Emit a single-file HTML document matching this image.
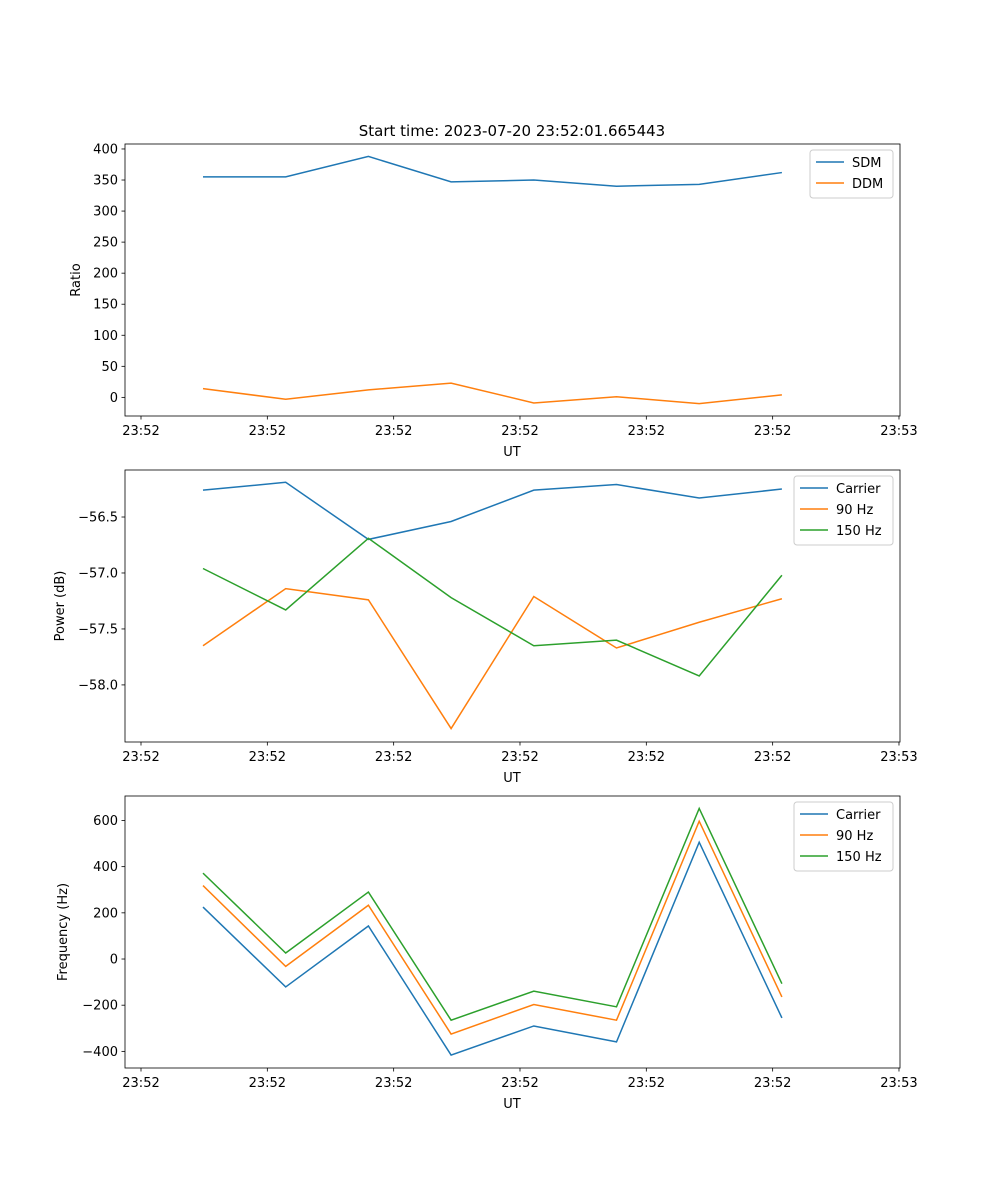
<!DOCTYPE html>
<html><head><meta charset="utf-8"><style>
body{margin:0;background:#fff}
svg{display:block;font-family:"DejaVu Sans","Liberation Sans",sans-serif}
</style></head><body>
<svg id="fig" width="1000" height="1200" viewBox="0 0 1000 1200" xmlns="http://www.w3.org/2000/svg">
<rect width="1000" height="1200" fill="#fff"/>
<text x="512" y="136" font-size="15" text-anchor="middle">Start time: 2023-07-20 23:52:01.665443</text>
</svg>
<script>
const xIndex=[0,1,2,3,4,5,6,7];
const xTickLabels=["23:52","23:52","23:52","23:52","23:52","23:52","23:53"];
const sdm=[355,355,388,347,350,340,343,362];
const ddm=[14,-3,12,23,-9,1,-10,4];
const powCarrier=[-56.26,-56.19,-56.70,-56.54,-56.26,-56.21,-56.33,-56.25];
const pow90=[-57.65,-57.14,-57.24,-58.39,-57.21,-57.67,-57.44,-57.23];
const pow150=[-56.96,-57.33,-56.69,-57.22,-57.65,-57.60,-57.92,-57.02];
const freqCarrier=[225,-121,143,-416,-290,-359,506,-255];
const freq90=[318,-32,233,-325,-197,-265,597,-164];
const freq150=[372,26,290,-265,-139,-207,652,-107];
const ratioTicks=[0,50,100,150,200,250,300,350,400];
const powTicks=[-58.0,-57.5,-57.0,-56.5];
const freqTicks=[-400,-200,0,200,400,600];

const svg=document.getElementById('fig');
const NS='http://www.w3.org/2000/svg';
function mk(tag,attrs,parent){const e=document.createElementNS(NS,tag);for(const k in attrs)e.setAttribute(k,attrs[k]);(parent||svg).appendChild(e);return e;}
const L=125,R=900;
// x axis: tick i at 141 + i*126.33 ; data index j at 203 + j*82.7
function xTick(i){return 141+i*126.33;}
function xData(j){return 203+j*82.7;}
const C=['#1f77b4','#ff7f0e','#2ca02c'];

function panel(name,top,bot,ymin,ymax,ticks,fmt,ylabel,series,legend){
  const g=mk('g',{});
  
  
  const y=v=>bot-(v-ymin)/(ymax-ymin)*(bot-top);
  series.forEach((s,k)=>{
    const p=mk('polyline',{points:s.vals.map((v,j)=>xData(xIndex[j])+','+y(v)).join(' '),fill:'none',stroke:C[k],'stroke-width':1.5},g);
    
    
  });
  mk('rect',{x:L,y:top,width:R-L,height:bot-top,fill:'none',stroke:'#000','stroke-width':0.8},g);
  ticks.forEach(t=>{
    const yy=y(t);
    mk('line',{x1:L-3.5,x2:L,y1:yy,y2:yy,stroke:'#000','stroke-width':0.8},g);
    const tx=mk('text',{x:L-7,y:yy+4.5,'font-size':13,'text-anchor':'end'},g);
    tx.textContent=fmt(t);
    
    
  });
  xTickLabels.forEach((lab,i)=>{
    const xx=xTick(i);
    mk('line',{x1:xx,x2:xx,y1:bot,y2:bot+3.5,stroke:'#000','stroke-width':0.8},g);
    const tx=mk('text',{x:xx,y:bot+19,'font-size':13,'text-anchor':'middle'},g);
    tx.textContent=lab;
    
    
  });
  const xl=mk('text',{x:512,y:bot+40,'font-size':13,'text-anchor':'middle'},g);
  xl.textContent='UT';
  
  
  const cy=(top+bot)/2;
  const yl=mk('text',{x:0,y:0,'font-size':13,'text-anchor':'middle',transform:`translate(${legend.ylx},${cy}) rotate(-90)`},g);
  yl.textContent=ylabel;
  
  
  const lg=mk('g',{},g);
  
  
  const h=series.length*21+6;
  mk('rect',{x:legend.x,y:top+6,width:893-legend.x,height:h,rx:3,fill:'#fff','fill-opacity':0.8,stroke:'#ccc'},lg);
  series.forEach((s,k)=>{
    const yy=top+18+k*21;
    mk('line',{x1:legend.x+6,x2:legend.x+34,y1:yy,y2:yy,stroke:C[k],'stroke-width':1.5},lg);
    const t=mk('text',{x:legend.x+42,y:yy+5,'font-size':13},lg);
    t.textContent=s.label;
    
    
  });
}
panel('ratio',144,416,-30,408,ratioTicks,t=>String(t),'Ratio',
  [{id:'sdm',label:'SDM',vals:sdm},{id:'ddm',label:'DDM',vals:ddm}],{x:810,ylx:80});
panel('power',470,742,-58.51,-56.08,powTicks,t=>'\u2212'+Math.abs(t).toFixed(1),'Power (dB)',
  [{id:'carrier',label:'Carrier',vals:powCarrier},{id:'90hz',label:'90 Hz',vals:pow90},{id:'150hz',label:'150 Hz',vals:pow150}],{x:794,ylx:64});
panel('frequency',796,1068,-472,706,freqTicks,t=>t<0?'\u2212'+Math.abs(t):String(t),'Frequency (Hz)',
  [{id:'carrier',label:'Carrier',vals:freqCarrier},{id:'90hz',label:'90 Hz',vals:freq90},{id:'150hz',label:'150 Hz',vals:freq150}],{x:794,ylx:67});
</script>
</body></html>
